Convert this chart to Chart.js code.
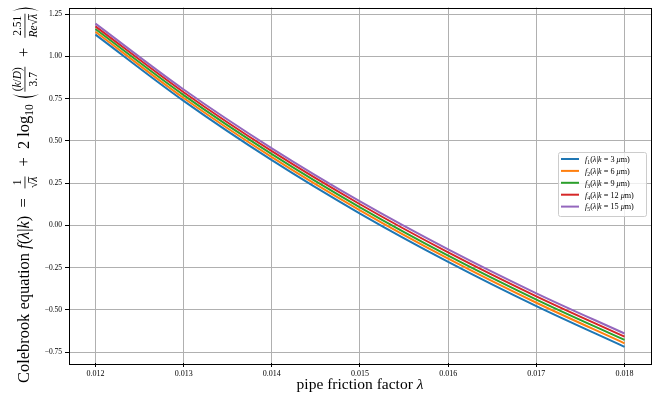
<!DOCTYPE html>
<html>
<head>
<meta charset="utf-8">
<script src="https://cdn.jsdelivr.net/npm/chart.js@4.4.0/dist/chart.umd.min.js"></script>
<style>
  html, body { margin: 0; padding: 0; background: #fff; }
  #wrap { width: 657px; height: 394px; }
</style>
</head>
<body>
<div id="wrap"><canvas id="colebrook" width="657" height="394"></canvas></div>
<script>
// friction factor samples and Colebrook residual for each roughness k
const lambdas = [0.012, 0.013, 0.014, 0.015, 0.016, 0.017, 0.018];
const roughness = [3, 6, 9, 12, 15];          // µm
const f1 = [1.129, 0.737, 0.386, 0.070, -0.216, -0.478, -0.719];
const f2 = [1.146, 0.754, 0.404, 0.089, -0.197, -0.458, -0.698];
const f3 = [1.162, 0.771, 0.422, 0.107, -0.179, -0.439, -0.678];
const f4 = [1.178, 0.788, 0.439, 0.125, -0.160, -0.420, -0.659];
const f5 = [1.194, 0.804, 0.456, 0.142, -0.142, -0.402, -0.640];
const series = [f1, f2, f3, f4, f5];
const colors = ['#1f77b4', '#ff7f0e', '#2ca02c', '#d62728', '#9467bd'];

const xTicks = [0.012, 0.013, 0.014, 0.015, 0.016, 0.017, 0.018];
const yTicks = [-0.75, -0.5, -0.25, 0, 0.25, 0.5, 0.75, 1.0, 1.25];

const SERIF = '"Liberation Serif", "DejaVu Serif", serif';
const serif = (size, italic) => (italic ? 'italic ' : '') + size + 'px ' + SERIF;

// ── little rich-text helpers (italic runs, sub/superscripts, overbars) ──
function runsWidth(ctx, runs, F) {
  let w = 0;
  runs.forEach(r => { ctx.font = serif(F * (r.s || 1), r.i); w += ctx.measureText(r.t).width; });
  return w;
}
function drawRuns(ctx, runs, x, y, F) {
  runs.forEach(r => {
    const size = F * (r.s || 1);
    ctx.font = serif(size, r.i);
    const w = ctx.measureText(r.t).width;
    ctx.fillText(r.t, x, y + (r.dy || 0) * F);
    if (r.bar) {
      ctx.fillRect(x - 0.5, y - 0.78 * size, w + 0.5, Math.max(0.7, 0.05 * size));
    }
    x += w;
  });
  return x;
}

const N = t => ({ t });
const I = t => ({ t, i: true });

const yLabel = [
  { runs: [N('Colebrook equation '), I('f'), N('('), I('λ'), N('|'), I('k'), N(')  =  ')] },
  { frac: [[N('1')], [N('√'), { t: 'λ', i: true, bar: true }]] },
  { runs: [N('  +  2 log'), { t: '10', s: 0.7, dy: 0.22 }, N(' ')] },
  { paren: '(' },
  { frac: [[N('('), I('k'), N('/'), I('D'), N(')')], [N('3.7')]] },
  { runs: [N('  +  ')] },
  { frac: [[N('2.51')], [I('Re'), N('√'), { t: 'λ', i: true, bar: true }]] },
  { paren: ')' }
];

function itemWidth(ctx, it, F) {
  if (it.runs) return runsWidth(ctx, it.runs, F);
  if (it.frac) return Math.max(runsWidth(ctx, it.frac[0], F * 0.7), runsWidth(ctx, it.frac[1], F * 0.7)) + 0.24 * F;
  return 0.42 * F;
}

function drawParen(ctx, x, w, F, left) {
  const yT = -1.02 * F, yB = 0.62 * F, mid = (yT + yB) / 2;
  const tip = left ? x + w * 0.85 : x + w * 0.15;
  const outer = left ? x - w * 0.2 : x + w * 1.2;
  const inner = left ? x + w * 0.2 : x + w * 0.8;
  ctx.beginPath();
  ctx.moveTo(tip, yT);
  ctx.quadraticCurveTo(outer, mid, tip, yB);
  ctx.quadraticCurveTo(inner, mid, tip, yT);
  ctx.fill();
}

function drawMathLabel(ctx, items, F) {
  let x = 0;
  items.forEach(it => {
    const w = itemWidth(ctx, it, F);
    if (it.runs) {
      drawRuns(ctx, it.runs, x, 0, F);
    } else if (it.frac) {
      const s = F * 0.7;
      const nw = runsWidth(ctx, it.frac[0], s), dw = runsWidth(ctx, it.frac[1], s);
      drawRuns(ctx, it.frac[0], x + (w - nw) / 2, -0.5 * F, s);
      drawRuns(ctx, it.frac[1], x + (w - dw) / 2, 0.5 * F, s);
      ctx.fillRect(x + 0.1 * F, -0.27 * F, w - 0.2 * F, 0.8);
    } else {
      drawParen(ctx, x, w, F, it.paren === '(');
    }
    x += w;
  });
}

// ── frame, axis titles and legend ─────────────────────────────────────
const decorations = {
  id: 'decorations',
  afterDraw(chart) {
    const ctx = chart.ctx;
    const a = chart.chartArea;
    ctx.save();
    ctx.fillStyle = '#000';
    ctx.strokeStyle = '#000';
    ctx.lineWidth = 1;
    ctx.strokeRect(Math.round(a.left) + 0.5, Math.round(a.top) + 0.5,
                   Math.round(a.right - a.left), Math.round(a.bottom - a.top));

    // x title
    ctx.textBaseline = 'alphabetic';
    const xs = 15.5;
    const xRuns = [N('pipe friction factor '), I('λ')];
    const xw = runsWidth(ctx, xRuns, xs);
    drawRuns(ctx, xRuns, (a.left + a.right) / 2 - xw / 2, 389, xs);

    // y title, rotated, scaled to its full length
    let F = 16;
    let total = 0;
    yLabel.forEach(it => { total += itemWidth(ctx, it, F); });
    F = F * 378 / total;
    ctx.save();
    ctx.translate(29, 383);
    ctx.rotate(-Math.PI / 2);
    drawMathLabel(ctx, yLabel, F);
    ctx.restore();

    // legend box
    const bx = 558.5, by = 152.5, bw = 88, bh = 64;
    ctx.beginPath();
    ctx.roundRect(bx, by, bw, bh, 2);
    ctx.fillStyle = 'rgba(255,255,255,0.8)';
    ctx.fill();
    ctx.strokeStyle = '#cccccc';
    ctx.stroke();
    const ls = 8.2;
    roughness.forEach((k, i) => {
      const y = 159 + i * 11.9;
      ctx.strokeStyle = colors[i];
      ctx.lineWidth = 2;
      ctx.beginPath();
      ctx.moveTo(561, y);
      ctx.lineTo(579, y);
      ctx.stroke();
      ctx.fillStyle = '#000';
      drawRuns(ctx, [I('f'), { t: String(i + 1), s: 0.7, dy: 0.25 }, N('('), I('λ'), N('|'), I('k'),
                     N(' = ' + k + ' '), I('μ'), N('m)')], 585, y + 2.8, ls);
    });
    ctx.restore();
  }
};

const datasets = series.map((vals, i) => ({
  label: 'f' + (i + 1) + '(λ|k = ' + roughness[i] + ' μm)',
  data: lambdas.map((l, j) => ({ x: l, y: vals[j] })),
  borderColor: colors[i],
  backgroundColor: colors[i],
  borderWidth: 2,
  pointRadius: 0,
  cubicInterpolationMode: 'monotone',
  order: series.length - 1 - i
}));

const tickFont = size => ({ family: SERIF, size: size });

new Chart(document.getElementById('colebrook'), {
  type: 'line',
  data: { datasets },
  options: {
    responsive: false,
    animation: false,
    devicePixelRatio: 1,
    layout: { padding: { top: 5, right: 6, left: 0, bottom: 0 } },
    plugins: { legend: { display: false }, tooltip: { enabled: false } },
    scales: {
      x: {
        type: 'linear',
        min: 0.0117, max: 0.0183,
        afterFit: s => { s.height = 31; },
        afterBuildTicks: s => { s.ticks = xTicks.map(v => ({ value: v })); },
        ticks: { callback: v => v.toFixed(3), font: tickFont(8), color: '#000', padding: 2, maxRotation: 0, autoSkip: false },
        grid: { color: '#b0b0b0', lineWidth: 1, tickColor: '#000', tickLength: 4, tickWidth: 1 },
        border: { display: false }
      },
      y: {
        min: -0.8146, max: 1.2895,
        afterFit: s => { s.width = 69; },
        afterBuildTicks: s => { s.ticks = yTicks.map(v => ({ value: v })); },
        ticks: { callback: v => (v < 0 ? '−' : '') + Math.abs(v).toFixed(2), font: tickFont(7.5), color: '#000', padding: 3, autoSkip: false },
        grid: { color: '#b0b0b0', lineWidth: 1, tickColor: '#000', tickLength: 4, tickWidth: 1 },
        border: { display: false }
      }
    }
  },
  plugins: [decorations]
});
</script>
</body>
</html>
